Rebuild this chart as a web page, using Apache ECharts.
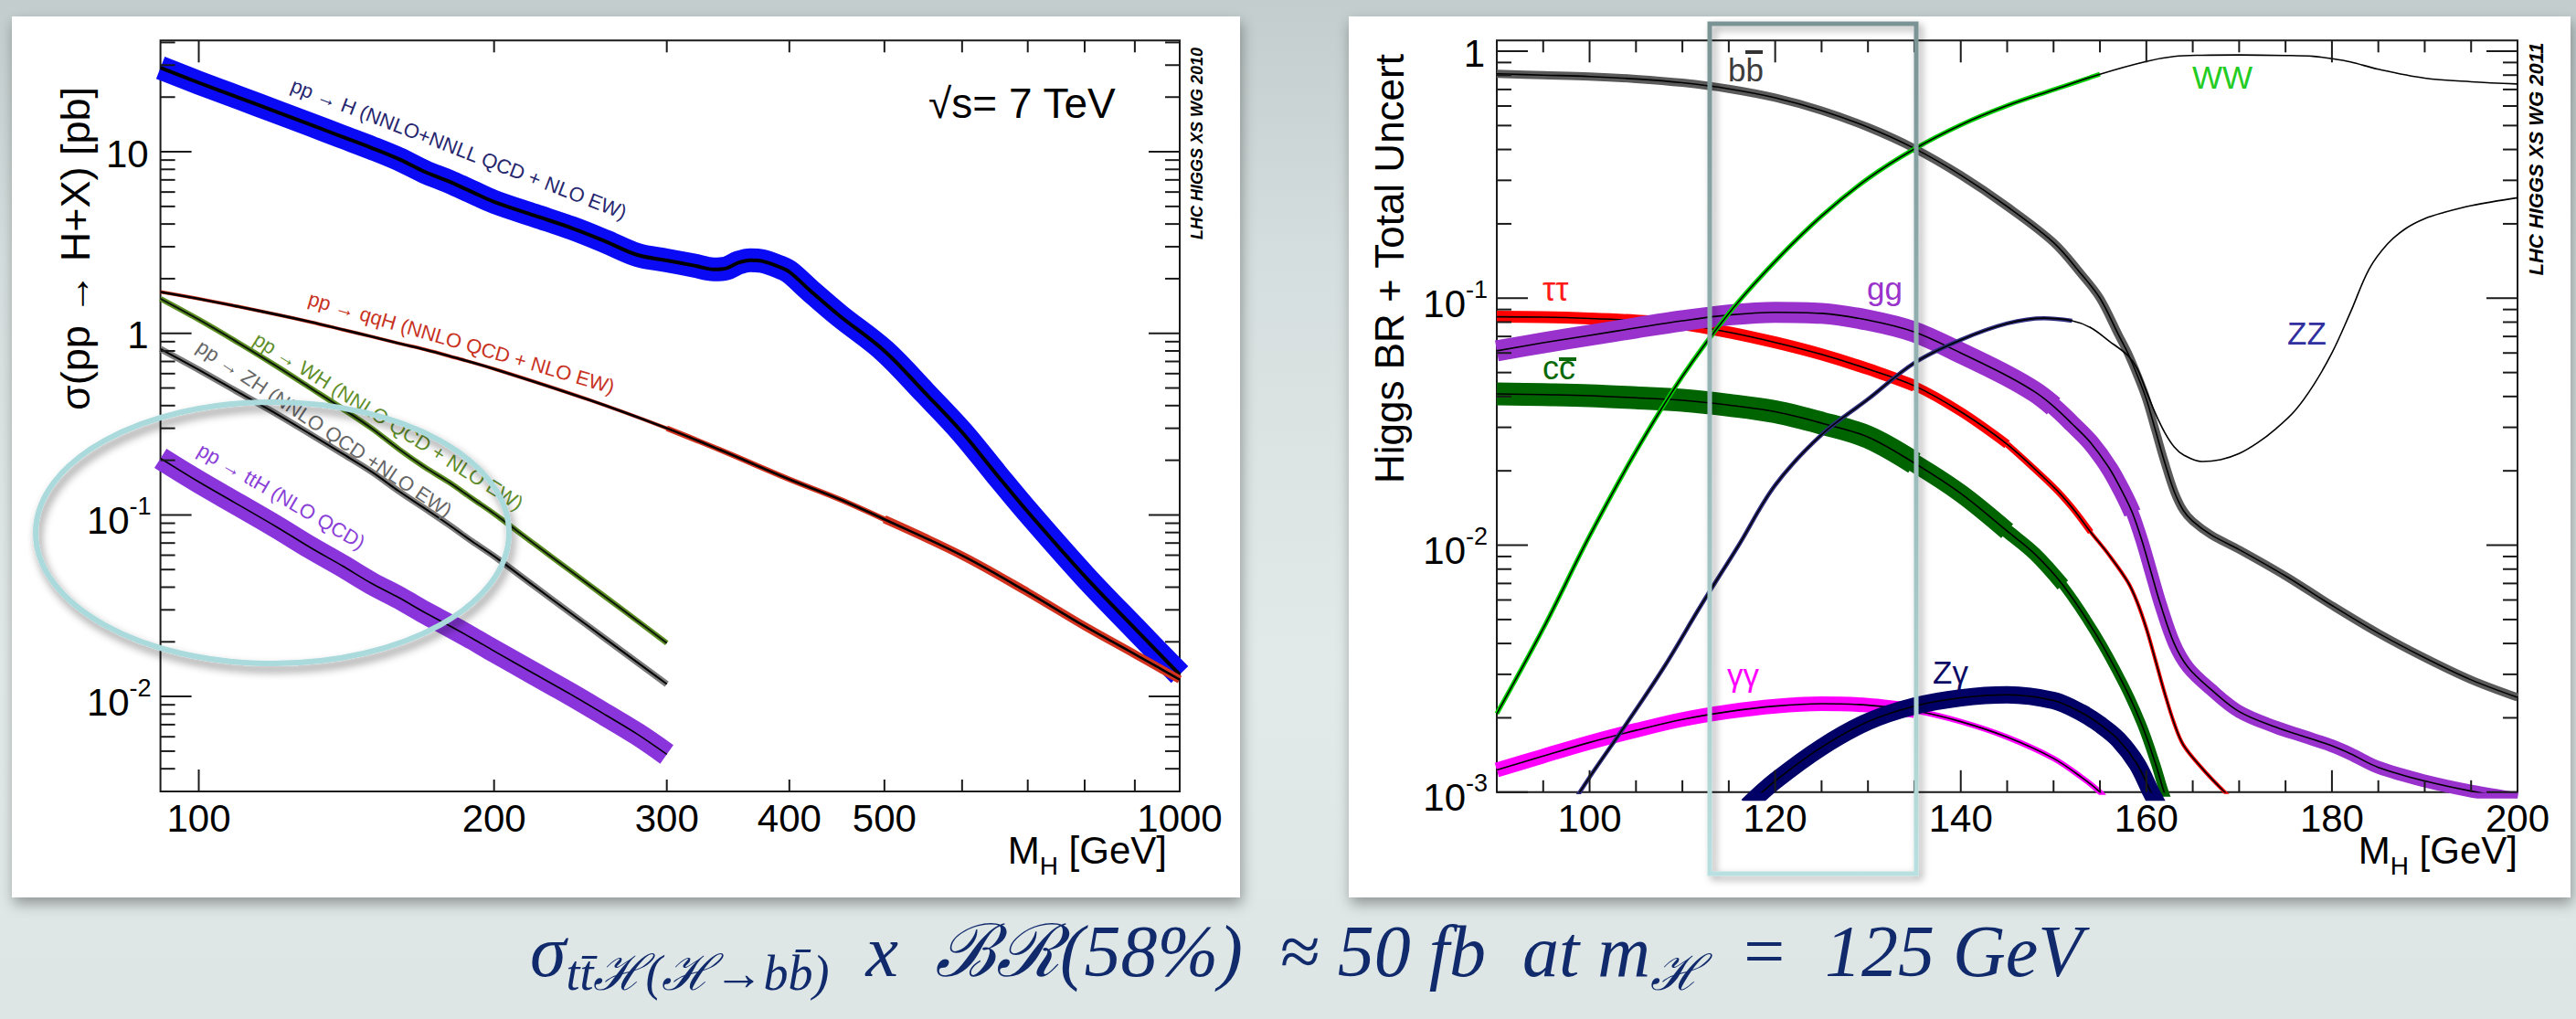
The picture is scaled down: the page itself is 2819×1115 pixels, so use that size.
<!DOCTYPE html>
<html lang="en">
<head>
<meta charset="UTF-8">
<title>Higgs production cross sections and branching ratios</title>
<script src="https://cdn.jsdelivr.net/npm/echarts@6.0.0/dist/echarts.min.js"></script>
<style>
  html, body { margin: 0; padding: 0; }
  body {
    width: 2819px; height: 1115px; overflow: hidden; position: relative;
    background: linear-gradient(to bottom, #c3cdcd 0%, #d5dede 25%, #e2e9e9 65%, #dde5e5 100%);
  }
  .panel { position: absolute; background: #fff; box-shadow: 2px 7px 14px rgba(0, 0, 0, 0.35); }
  #chart { position: absolute; left: 0; top: 0; width: 2819px; height: 1115px; }
</style>
</head>
<body>
<div class="panel" style="left:13px;top:18px;width:1344px;height:964px"></div>
<div class="panel" style="left:1476px;top:18px;width:1337px;height:964px"></div>
<div id="chart"></div>

<script>
// ---------- left plot: sigma(pp -> H+X) [pb], sqrt(s) = 7 TeV
const ggHMass = [91.4, 100, 110, 120, 130, 140, 150, 160, 170, 180, 190, 200, 220, 240, 260, 280, 300, 320, 335, 345, 355, 365, 375, 390, 400, 420, 450, 500, 550, 600, 650, 700, 800, 900, 1000];
const ggHXs = [29.0, 24.0, 19.8, 16.6, 14.1, 12.1, 10.5, 9.1, 7.75, 6.85, 6.0, 5.3, 4.45, 3.8, 3.2, 2.70, 2.52, 2.36, 2.25, 2.28, 2.45, 2.53, 2.50, 2.33, 2.18, 1.72, 1.25, 0.80, 0.47, 0.285, 0.168, 0.104, 0.046, 0.0237, 0.0132];

const qqHMass = [91.4, 100, 110, 120, 130, 140, 150, 160, 170, 180, 200, 250, 300, 340, 400, 450, 500, 600, 700, 800, 900, 1000];
const qqHXs = [1.69, 1.55, 1.40, 1.27, 1.155, 1.05, 0.96, 0.88, 0.815, 0.75, 0.637, 0.43, 0.30, 0.228, 0.157, 0.122, 0.0946, 0.0597, 0.0375, 0.0244, 0.0171, 0.0124];

const vhMass = [91.4, 100, 110, 120, 130, 140, 150, 160, 170, 180, 190, 200, 220, 240, 260, 280, 300];
const whXs = [1.55, 1.19, 0.88, 0.66, 0.50, 0.386, 0.30, 0.23, 0.183, 0.151, 0.123, 0.1016, 0.069, 0.0486, 0.0352, 0.0261, 0.0197];
const zhXs = [0.82, 0.63, 0.47, 0.36, 0.278, 0.218, 0.173, 0.135, 0.1085, 0.088, 0.0714, 0.0592, 0.0404, 0.0285, 0.0207, 0.0154, 0.0117];
const ttHXs = [0.205, 0.152, 0.113, 0.086, 0.066, 0.0525, 0.042, 0.035, 0.029, 0.0246, 0.0209, 0.0178, 0.0133, 0.0102, 0.0079, 0.0062, 0.0048];

// ---------- right plot: Higgs branching ratios
const bbMass = [90, 95, 100, 105, 110, 115, 120, 125, 130, 135, 140, 145, 150, 153, 155, 157, 158, 159, 160, 161, 162, 163, 164, 165, 167, 170, 175, 180, 185, 190, 195, 200];
const bbBR = [0.81, 0.80, 0.79, 0.772, 0.745, 0.704, 0.648, 0.575, 0.492, 0.404, 0.315, 0.235, 0.168, 0.125, 0.100, 0.071, 0.060, 0.049, 0.039, 0.029, 0.0215, 0.0165, 0.0138, 0.0125, 0.0110, 0.0096, 0.0075, 0.0057, 0.0044, 0.0035, 0.00285, 0.00242];

const wwMass = [90, 95, 100, 105, 110, 115, 120, 125, 130, 135, 140, 145, 150, 155, 160, 163, 166, 170, 175, 178, 180, 182, 185, 190, 195, 200];
const wwBR = [0.00208, 0.0046, 0.0109, 0.024, 0.0483, 0.0868, 0.141, 0.215, 0.305, 0.402, 0.503, 0.602, 0.698, 0.807, 0.909, 0.952, 0.963, 0.966, 0.961, 0.953, 0.933, 0.905, 0.845, 0.778, 0.752, 0.737];

const zzMass = [98, 100, 104, 108, 112, 116, 120, 125, 130, 135, 140, 145, 149, 152, 154, 156, 158, 159, 160, 161, 162, 163, 164, 166, 168, 170, 172, 174, 176, 178, 180, 182, 184, 186, 188, 190, 192, 195, 200];
const zzBR = [0.00088, 0.00115, 0.0019, 0.0032, 0.0057, 0.0099, 0.0175, 0.028, 0.039, 0.0547, 0.0678, 0.079, 0.083, 0.081, 0.076, 0.067, 0.0586, 0.052, 0.042, 0.034, 0.0285, 0.025, 0.0232, 0.0218, 0.0222, 0.0235, 0.026, 0.0297, 0.035, 0.0444, 0.06, 0.0877, 0.131, 0.166, 0.192, 0.210, 0.222, 0.237, 0.255];

const tautauMass = [90, 95, 100, 105, 110, 115, 120, 125, 130, 135, 140, 145, 150, 152, 154, 156, 158, 159, 160, 161, 162, 163, 164, 166, 168, 170];
const tautauBR = [0.0841, 0.0838, 0.0828, 0.0812, 0.0785, 0.0728, 0.0662, 0.0592, 0.0517, 0.0442, 0.0347, 0.0256, 0.0172, 0.0142, 0.0113, 0.0091, 0.0071, 0.0059, 0.0046, 0.0034, 0.0025, 0.0019, 0.00155, 0.00125, 0.00104, 0.00088];

const ggMass = [90, 95, 100, 105, 110, 115, 120, 125, 130, 135, 140, 145, 148, 150, 152, 154, 156, 157.5, 158.5, 159.5, 160.5, 161.5, 163, 164.5, 167, 170, 174, 177, 180, 182, 185, 190, 195, 200];
const ggBR = [0.0612, 0.066, 0.0707, 0.0758, 0.081, 0.0855, 0.0877, 0.0868, 0.0815, 0.073, 0.060, 0.0485, 0.0417, 0.0365, 0.031, 0.026, 0.0205, 0.0162, 0.0135, 0.0105, 0.0078, 0.0058, 0.0040, 0.0032, 0.0026, 0.00212, 0.00183, 0.00168, 0.00154, 0.00143, 0.00126, 0.00111, 0.00101, 0.00094];

const ccMass = [90, 95, 100, 105, 110, 115, 120, 125, 130, 135, 140, 145, 148, 151, 154.5, 157.5, 159.5, 161, 162, 163];
const ccBR = [0.041, 0.0407, 0.0403, 0.0395, 0.0386, 0.0369, 0.0347, 0.0312, 0.0274, 0.0215, 0.0162, 0.0114, 0.0092, 0.0069, 0.0044, 0.00275, 0.00188, 0.0013, 0.00098, 0.0008];

const gamgamMass = [90, 95, 100, 105, 110, 115, 120, 125, 130, 135, 140, 145, 150, 153, 155, 156];
const gamgamBR = [0.00123, 0.0014, 0.00159, 0.00178, 0.00197, 0.00212, 0.00223, 0.00228, 0.00225, 0.00214, 0.00193, 0.00167, 0.00137, 0.00115, 0.00100, 0.0009];

const zgamMass = [117, 120, 125, 130, 135, 140, 145, 150, 153, 155, 157, 159, 160.5, 161.5];
const zgamBR = [0.00088, 0.00111, 0.00152, 0.00193, 0.00223, 0.00241, 0.00248, 0.00235, 0.0021, 0.00188, 0.00163, 0.0013, 0.001, 0.00085];

// ---------- ticks and tick labels
const leftXMajor = [100, 1000];
const leftXMinor = [200, 300, 400, 500, 600, 700, 800, 900];
const leftXLabels = [100, 200, 300, 400, 500, 1000];
const leftYMajor = [0.01, 0.1, 1, 10];
const leftYMinor = [0.003, 0.004, 0.005, 0.006, 0.007, 0.008, 0.009, 0.02, 0.03, 0.04, 0.05, 0.06, 0.07, 0.08, 0.09,
  0.2, 0.3, 0.4, 0.5, 0.6, 0.7, 0.8, 0.9, 2, 3, 4, 5, 6, 7, 8, 9, 20, 30, 40];
const leftYLabels = [0.01, 0.1, 1, 10];

const rightXMajor = [100, 120, 140, 160, 180, 200];
const rightXMinor = [95, 105, 110, 115, 125, 130, 135, 145, 150, 155, 165, 170, 175, 185, 190, 195];
const rightXLabels = [100, 120, 140, 160, 180, 200];
const rightYMajor = [0.001, 0.01, 0.1, 1];
const rightYMinor = [0.002, 0.003, 0.004, 0.005, 0.006, 0.007, 0.008, 0.009, 0.02, 0.03, 0.04, 0.05, 0.06, 0.07, 0.08, 0.09,
  0.2, 0.3, 0.4, 0.5, 0.6, 0.7, 0.8, 0.9];
const rightYLabels = [0.001, 0.01, 0.1, 1];

const FONT = "'Liberation Sans', Arial, Helvetica, sans-serif";
const SERIF = "'Liberation Serif', 'DejaVu Serif', serif";

function pairs(ms, vs) { return ms.map((m, i) => [m, vs[i]]); }
function part(ms, vs, from, to) { return pairs(ms, vs).filter(p => p[0] >= from && p[0] <= to); }

const series = [];
function curve(grid, data, color, width) {
  series.push({
    type: 'line', xAxisIndex: grid, yAxisIndex: grid, data: data,
    showSymbol: false, symbol: 'none', smooth: 0.35,
    silent: true, clip: true, z: 2,
    lineStyle: { color: color, width: width, cap: 'butt', join: 'round' }
  });
}
// uncertainty band drawn as a thick line, narrowing step by step along the mass range
function band(grid, ms, vs, color, steps) {
  steps.forEach(s => curve(grid, part(ms, vs, s[0], s[1]), color, s[2]));
}

// left plot (band first, then black central line)
curve(0, pairs(ggHMass, ggHXs), '#0a0af5', 26);
curve(0, pairs(ggHMass, ggHXs), '#000', 4);
band(0, qqHMass, qqHXs, '#d2321e', [[91, 340, 3.8], [300, 600, 6], [500, 1000, 9]]);
curve(0, pairs(qqHMass, qqHXs), '#000', 2.6);
curve(0, pairs(vhMass, whXs), '#5d8f22', 6);
curve(0, pairs(vhMass, whXs), '#0c160c', 2);
curve(0, pairs(vhMass, zhXs), '#7b7b7b', 7);
curve(0, pairs(vhMass, zhXs), '#000', 2);
curve(0, pairs(vhMass, ttHXs), '#8a35dc', 25);
curve(0, pairs(vhMass, ttHXs), '#000', 1.6);

// right plot
band(1, tautauMass, tautauBR, '#ff0000', [[90, 135, 13], [130, 146, 10], [145, 154, 7], [152, 170, 4]]);
curve(1, pairs(tautauMass, tautauBR), '#000', 1.6);
band(1, ggMass, ggBR, '#9932cc', [[90, 150, 23], [148, 158.5, 19], [156, 200, 14]]);
curve(1, pairs(ggMass, ggBR), '#000', 1.6);
band(1, ccMass, ccBR, '#006400', [[90, 135, 25], [130, 145, 20], [140, 151, 15], [148, 163, 10]]);
curve(1, pairs(ccMass, ccBR), '#000', 1.6);
band(1, gamgamMass, gamgamBR, '#ff00ff', [[90, 135, 16], [130, 156, 6]]);
curve(1, pairs(gamgamMass, gamgamBR), '#000', 1.6);
curve(1, pairs(zgamMass, zgamBR), '#000066', 19);
curve(1, pairs(zgamMass, zgamBR), '#000', 1.6);
curve(1, pairs(bbMass, bbBR), '#5a5a5a', 9);
curve(1, pairs(bbMass, bbBR), '#000', 1.6);
curve(1, part(zzMass, zzBR, 98, 153), '#2e2e80', 4.5);
curve(1, pairs(zzMass, zzBR), '#000', 1.6);
curve(1, part(wwMass, wwBR, 90, 157), '#00d000', 5);
curve(1, pairs(wwMass, wwBR), '#000', 1.6);

// ROOT-style ticks on all four sides
function tickData(xMajor, xMinor, yMajor, yMinor, xRef, yRef) {
  const d = [];
  xMajor.forEach(v => d.push([v, yRef, 0]));
  xMinor.forEach(v => d.push([v, yRef, 1]));
  yMajor.forEach(v => d.push([xRef, v, 2]));
  yMinor.forEach(v => d.push([xRef, v, 3]));
  return d;
}
function renderTick(params, api) {
  const kind = api.value(2);
  const cs = params.coordSys;
  const p = api.coord([api.value(0), api.value(1)]);
  const st = () => ({ stroke: '#1a1a1a', lineWidth: 2 });
  if (kind < 2) {
    const len = kind === 0 ? 24 : 13;
    const top = cs.y, bot = cs.y + cs.height;
    return { type: 'group', children: [
      { type: 'line', shape: { x1: p[0], y1: bot, x2: p[0], y2: bot - len }, style: st() },
      { type: 'line', shape: { x1: p[0], y1: top, x2: p[0], y2: top + len }, style: st() }
    ] };
  }
  const len = kind === 2 ? 34 : 16;
  const l = cs.x, r = cs.x + cs.width;
  return { type: 'group', children: [
    { type: 'line', shape: { x1: l, y1: p[1], x2: l + len, y2: p[1] }, style: st() },
    { type: 'line', shape: { x1: r, y1: p[1], x2: r - len, y2: p[1] }, style: st() }
  ] };
}
function labelData(xs, ys, xRef, yRef) {
  return xs.map(v => [v, yRef, 0]).concat(ys.map(v => [xRef, v, 1]));
}
function renderLabel(params, api) {
  const cs = params.coordSys;
  if (api.value(2) === 0) {
    const v = api.value(0);
    const p = api.coord([v, api.value(1)]);
    return { type: 'text', x: p[0], y: cs.y + cs.height + 8,
      style: { text: String(v), fill: '#000', fontSize: 42, fontFamily: FONT, align: 'center', verticalAlign: 'top' } };
  }
  const v = api.value(1);
  const p = api.coord([api.value(0), v]);
  const e = Math.round(Math.log10(v));
  if (e === 0 || e === 1) {
    return { type: 'text', x: cs.x - 13, y: p[1] + 2,
      style: { text: e === 0 ? '1' : '10', fill: '#000', fontSize: 42, fontFamily: FONT, align: 'right', verticalAlign: 'middle' } };
  }
  return { type: 'text', x: cs.x - 10, y: p[1] + 6,
    style: {
      text: '{b|10}{s|' + e + '}', fill: '#000', fontSize: 42, fontFamily: FONT, align: 'right', verticalAlign: 'middle',
      rich: {
        b: { fontSize: 42, lineHeight: 58, fontFamily: FONT, fill: '#000' },
        s: { fontSize: 27, lineHeight: 27, fontFamily: FONT, fill: '#000', verticalAlign: 'top' }
      }
    } };
}
[[0, leftXMajor, leftXMinor, leftYMajor, leftYMinor, leftXLabels, leftYLabels],
 [1, rightXMajor, rightXMinor, rightYMajor, rightYMinor, rightXLabels, rightYLabels]].forEach(g => {
  series.push({ type: 'custom', coordinateSystem: 'cartesian2d', xAxisIndex: g[0], yAxisIndex: g[0], silent: true, z: 10,
    renderItem: renderTick, data: tickData(g[1], g[2], g[3], g[4], 100, 1) });
  series.push({ type: 'custom', coordinateSystem: 'cartesian2d', xAxisIndex: g[0], yAxisIndex: g[0], silent: true, z: 10,
    renderItem: renderLabel, data: labelData(g[5], g[6], 100, 1) });
});

// annotations
function text(str, x, y, style, extra) {
  return Object.assign({ type: 'text', x: x, y: y, z: 50, silent: true,
    style: Object.assign({ text: str, fill: '#000', fontSize: 22, fontFamily: FONT, align: 'center', verticalAlign: 'middle' }, style) }, extra || {});
}
const deg = Math.PI / 180;
const subRich = (size, main, sub) => ({
  a: { fontSize: size, lineHeight: main, fontFamily: FONT, fill: '#000' },
  b: { fontSize: Math.round(size * 0.66), lineHeight: sub, fontFamily: FONT, fill: '#000', verticalAlign: 'bottom' }
});
const EN = '\u2002';

const graphics = [
  // left plot texts
  text('pp → H (NNLO+NNLL QCD + NLO EW)', 502, 163, { fill: '#26266e' }, { rotation: -21.1 * deg }),
  text('pp → qqH (NNLO QCD + NLO EW)', 505, 375, { fill: '#c8321e' }, { rotation: -16.3 * deg }),
  text('pp → WH (NNLO QCD + NLO EW)', 425, 461, { fill: '#5f8f2a' }, { rotation: -32.3 * deg }),
  text('pp → ZH (NNLO QCD +NLO EW)', 355, 469, { fill: '#666666' }, { rotation: -33.8 * deg }),
  text('pp → ttH (NLO QCD)', 308, 543, { fill: '#8a3fd8' }, { rotation: -30.4 * deg }),
  text('√s= 7 TeV', 1016, 113, { fontSize: 46, align: 'left' }),
  text('LHC HIGGS XS WG 2010', 1310, 157, { fontSize: 18, fontWeight: 'bold', fontStyle: 'italic' }, { rotation: 90 * deg }),
  text('σ(pp → H+X) [pb]', 82, 272, { fontSize: 45 }, { rotation: 90 * deg }),
  text('{a|M}{b|H}{a| [GeV]}', 1277, 930, { fontSize: 42, align: 'right', rich: subRich(42, 62, 28) }),

  // right plot texts
  text('Higgs BR + Total Uncert', 1520, 529, { fontSize: 44, align: 'left' }, { rotation: 90 * deg }),
  text('LHC HIGGS XS WG 2011', 2775, 174, { fontSize: 22, fontWeight: 'bold', fontStyle: 'italic' }, { rotation: 90 * deg }),
  text('{a|M}{b|H}{a| [GeV]}', 2755, 930, { fontSize: 42, align: 'right', rich: subRich(42, 62, 28) }),
  text('bb', 1891, 76, { fontSize: 35, align: 'left', fill: '#3d3d3d' }),
  { type: 'rect', z: 50, silent: true, shape: { x: 1910, y: 55, width: 19, height: 4 }, style: { fill: '#333' } },
  text('WW', 2399, 84, { fontSize: 35, align: 'left', fill: '#22cc22' }),
  text('ZZ', 2503, 364, { fontSize: 35, align: 'left', fill: '#3030a0' }),
  text('ττ', 1688, 316, { fontSize: 36, align: 'left', fill: '#ff1a1a' }),
  text('gg', 2043, 315, { fontSize: 35, align: 'left', fill: '#9933cc' }),
  text('cc', 1688, 402, { fontSize: 36, align: 'left', fill: '#0a6a0a' }),
  { type: 'rect', z: 50, silent: true, shape: { x: 1706, y: 391, width: 19, height: 4 }, style: { fill: '#0a6a0a' } },
  text('γγ', 1890, 738, { fontSize: 35, align: 'left', fill: '#ff00ff' }),
  text('Zγ', 2115, 735, { fontSize: 35, align: 'left', fill: '#0a0a66' }),

  // highlight ellipse and box
  { type: 'ellipse', z: 100, silent: true, shape: { cx: 298, cy: 583, rx: 259, ry: 143 },
    style: { fill: 'none', stroke: '#abdadd', lineWidth: 6, shadowBlur: 10, shadowColor: 'rgba(0,0,0,0.45)', shadowOffsetX: 3, shadowOffsetY: 6 } },
  { type: 'rect', z: 100, silent: true, shape: { x: 1871, y: 26, width: 226, height: 930 },
    style: { fill: 'none', lineWidth: 5, shadowBlur: 8, shadowColor: 'rgba(0,0,0,0.35)', shadowOffsetX: 4, shadowOffsetY: 4,
      stroke: { type: 'linear', x: 0, y: 0, x2: 0, y2: 1, colorStops: [{ offset: 0, color: '#7a9394' }, { offset: 1, color: '#b9e0e0' }] } } },

  // summary line under the plots
  text('{m|σ}{s|tt\u0304ℋ(ℋ→bb\u0304)}{m|' + EN + 'x' + EN + 'ℬℛ(58%)' + EN + '≈ 50 fb' + EN + 'at m}{s|ℋ}{m|' + EN + '=' + EN + '125 GeV}', 580, 1041, {
    align: 'left', fontSize: 80, fontFamily: SERIF, fontStyle: 'italic', fill: '#102a6c',
    rich: {
      m: { fontSize: 80, lineHeight: 102, fontFamily: SERIF, fontStyle: 'italic', fill: '#102a6c' },
      s: { fontSize: 54, lineHeight: 26, fontFamily: SERIF, fontStyle: 'italic', fill: '#102a6c', verticalAlign: 'bottom' }
    }
  })
];

const chart = echarts.init(document.getElementById('chart'), null, { renderer: 'svg', width: 2819, height: 1115 });

const option = {
  animation: false,
  backgroundColor: 'transparent',
  grid: [
    { left: 175.6, top: 44.3, width: 1115.4, height: 821.7, show: true, borderColor: '#1a1a1a', borderWidth: 2, backgroundColor: 'transparent', outerBoundsMode: 'none', containLabel: false },
    { left: 1638, top: 44.3, width: 1117, height: 822.5, show: true, borderColor: '#1a1a1a', borderWidth: 2, backgroundColor: 'transparent', outerBoundsMode: 'none', containLabel: false }
  ],
  xAxis: [
    { type: 'log', logBase: 10, gridIndex: 0, min: 91.4, max: 1000, show: false },
    { type: 'value', gridIndex: 1, min: 90, max: 200, show: false }
  ],
  yAxis: [
    { type: 'log', logBase: 10, gridIndex: 0, min: 0.003, max: 41, show: false },
    { type: 'log', logBase: 10, gridIndex: 1, min: 0.001, max: 1.105, show: false }
  ],
  series: series,
  graphic: { elements: graphics }
};

chart.setOption(option);
</script>
</body>
</html>
